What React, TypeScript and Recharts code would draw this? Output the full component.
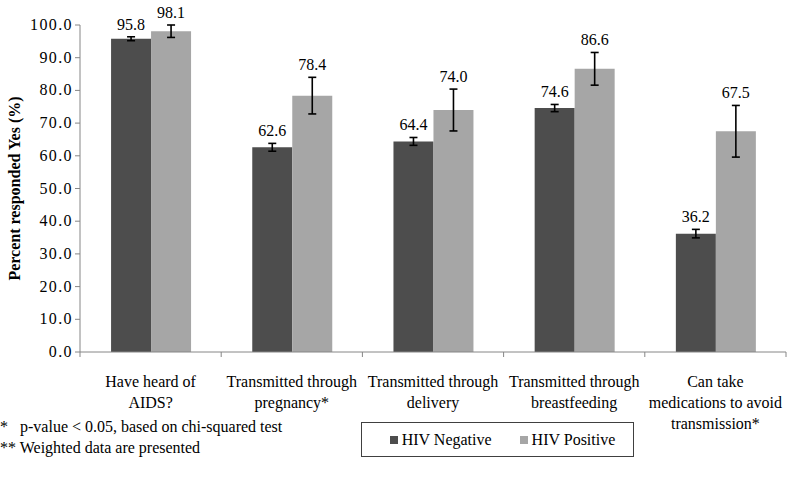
import { BarChart, Bar, XAxis, YAxis, ErrorBar, LabelList, Label } from "recharts"

const categories = [
  ["Have heard of", "AIDS?"],
  ["Transmitted through", "pregnancy*"],
  ["Transmitted through", "delivery"],
  ["Transmitted through", "breastfeeding"],
  ["Can take", "medications to avoid", "transmission*"],
]
const hivNegative = [95.8, 62.6, 64.4, 74.6, 36.2]
const hivNegativeErr = [0.6, 1.2, 1.2, 1.1, 1.3]
const hivPositive = [98.1, 78.4, 74.0, 86.6, 67.5]
const hivPositiveErr = [1.9, 5.6, 6.4, 5.0, 7.9]
const yTicks = [0, 10, 20, 30, 40, 50, 60, 70, 80, 90, 100]
const seriesNames = ["HIV Negative", "HIV Positive"]

const FONT = "'Liberation Serif', 'Times New Roman', serif"
const DARK = "#4d4d4d"
const LIGHT = "#a6a6a6"

const data = categories.map((c, i) => ({
  name: c.join(" "),
  neg: hivNegative[i],
  negErr: hivNegativeErr[i],
  pos: hivPositive[i],
  posErr: hivPositiveErr[i],
}))

// eslint-disable-next-line @typescript-eslint/no-explicit-any
function CategoryTick({ x, y, payload, index, width, visibleTicksCount }: any) {
  const band = width / visibleTicksCount
  const lines = categories[index] ?? [payload.value]
  return (
    <g>
      <line x1={x - band / 2} x2={x - band / 2} y1={y - 8} y2={y - 3} stroke="#868686" />
      {index === visibleTicksCount - 1 && (
        <line x1={x + band / 2} x2={x + band / 2} y1={y - 8} y2={y - 3} stroke="#868686" />
      )}
      <text x={x} y={y + 27} textAnchor="middle" style={{ fontFamily: FONT, fontSize: 16 }} fill="#000">
        {lines.map((l: string, i: number) => (
          <tspan key={i} x={x} dy={i === 0 ? 0 : 21}>
            {l}
          </tspan>
        ))}
      </text>
    </g>
  )
}

// eslint-disable-next-line @typescript-eslint/no-explicit-any
function ValueTick({ x, y, payload }: any) {
  return (
    <text
      x={x}
      y={y}
      dy={5}
      textAnchor="end"
      fill="#000"
      style={{ fontFamily: FONT, fontSize: 16, letterSpacing: 1.4 }}
    >
      {payload.value.toFixed(1)}
    </text>
  )
}

function makeValueLabel(errs: number[]) {
  // eslint-disable-next-line @typescript-eslint/no-explicit-any
  return function ValueLabel({ x, y, width, height, value, index }: any) {
    const perUnit = height / value
    const errPx = errs[index] * perUnit
    return (
      <text
        x={x + width / 2}
        y={y - errPx - 7}
        textAnchor="middle"
        style={{ fontFamily: FONT, fontSize: 16 }}
        fill="#000"
      >
        {value.toFixed(1)}
      </text>
    )
  }
}

// eslint-disable-next-line @typescript-eslint/no-explicit-any
function YTitle({ viewBox }: any) {
  const cx = 14
  const cy = viewBox.y + viewBox.height / 2
  return (
    <text
      x={cx}
      y={cy}
      transform={`rotate(-90 ${cx} ${cy})`}
      textAnchor="middle"
      dominantBaseline="central"
      fill="#000"
      style={{ fontFamily: FONT, fontSize: 16, fontWeight: "bold" }}
    >
      Percent responded Yes (%)
    </text>
  )
}

function LegendBox() {
  const colors = [DARK, LIGHT]
  return (
    <div
      style={{
        position: "absolute",
        left: 361,
        top: 422,
        width: 273,
        height: 35,
        border: "1px solid #404040",
        boxSizing: "border-box",
        display: "flex",
        alignItems: "center",
        justifyContent: "center",
        gap: 28,
        paddingLeft: 10,
        fontFamily: FONT,
        fontSize: 16,
        color: "#000",
      }}
    >
      {seriesNames.map((n, i) => (
        <span key={n} style={{ display: "flex", alignItems: "center" }}>
          <span style={{ width: 8, height: 8, background: colors[i], marginRight: 4 }} />
          {n}
        </span>
      ))}
    </div>
  )
}

export default function App() {
  return (
    <div style={{ position: "relative", width: 787, height: 484, background: "#fff", fontFamily: FONT }}>
      <style>{`body{margin:0}`}</style>
      <BarChart
        width={787}
        height={484}
        data={data}
        margin={{ top: 25, right: 1, left: 0, bottom: 0 }}
        barCategoryGap="22%"
        barGap={0}
        style={{ fontFamily: FONT }}
      >
        <XAxis
          dataKey="name"
          interval={0}
          tick={<CategoryTick />}
          tickLine={false}
          axisLine={{ stroke: "#868686" }}
          height={132}
        />
        <YAxis
          domain={[0, 100]}
          ticks={yTicks}
          width={80}
          tick={<ValueTick />}
          tickLine={{ stroke: "#868686" }}
          axisLine={{ stroke: "#868686" }}
          tickSize={5}
          tickMargin={2}
        >
          <Label content={<YTitle />} />
        </YAxis>
        <Bar dataKey="neg" name={seriesNames[0]} fill={DARK} isAnimationActive={false}>
          <ErrorBar dataKey="negErr" width={4} stroke="#000" strokeWidth={1.6} />
          <LabelList dataKey="neg" content={makeValueLabel(hivNegativeErr)} />
        </Bar>
        <Bar dataKey="pos" name={seriesNames[1]} fill={LIGHT} isAnimationActive={false}>
          <ErrorBar dataKey="posErr" width={4} stroke="#000" strokeWidth={1.6} />
          <LabelList dataKey="pos" content={makeValueLabel(hivPositiveErr)} />
        </Bar>
      </BarChart>
      <LegendBox />
      <div
        style={{
          position: "absolute",
          left: 0,
          top: 416,
          fontFamily: FONT,
          fontSize: 16,
          lineHeight: "21px",
          whiteSpace: "pre",
          color: "#000",
        }}
      >
        {"*   p-value < 0.05, based on chi-squared test\n** Weighted data are presented"}
      </div>
    </div>
  )
}
